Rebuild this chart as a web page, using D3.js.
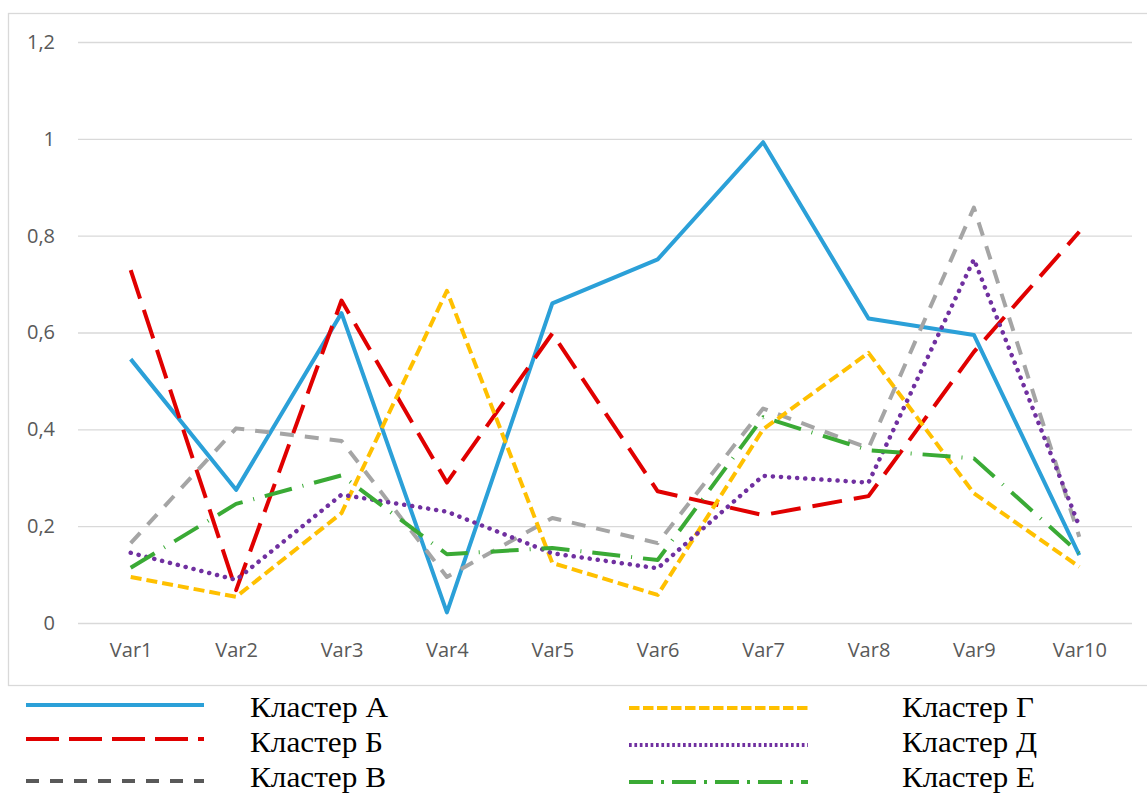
<!DOCTYPE html>
<html>
<head>
<meta charset="utf-8">
<script src="https://cdn.jsdelivr.net/npm/d3@7"></script>
<style>
	html, body { margin: 0; padding: 0; background: #fff; }
	svg { display: block; }
</style>
</head>
<body>
<div id="chart"></div>
<script>
'use strict';

//Categories on the x axis
var categories = ['Var1','Var2','Var3','Var4','Var5','Var6','Var7','Var8','Var9','Var10'];

//Y axis ticks
var yTicks = [0, 0.2, 0.4, 0.6, 0.8, 1, 1.2];

//Series names
var seriesNames = ['Кластер А','Кластер Б','Кластер В','Кластер Г','Кластер Д','Кластер Е'];

//Series values
var clusterA = [0.545, 0.275, 0.640, 0.022, 0.660, 0.751, 0.993, 0.629, 0.595, 0.140];
var clusterB = [0.729, 0.068, 0.666, 0.290, 0.598, 0.272, 0.223, 0.262, 0.560, 0.808];
var clusterV = [0.165, 0.402, 0.376, 0.095, 0.217, 0.165, 0.443, 0.361, 0.858, 0.178];
var clusterG = [0.095, 0.054, 0.227, 0.686, 0.124, 0.058, 0.400, 0.558, 0.268, 0.116];
var clusterD = [0.145, 0.089, 0.265, 0.230, 0.144, 0.113, 0.304, 0.290, 0.751, 0.200];
var clusterE = [0.114, 0.246, 0.305, 0.142, 0.155, 0.130, 0.425, 0.357, 0.340, 0.144];

(function() {
	var W = 1147, H = 793;

	//plot area
	var plot = {left: 78, right: 1132, top: 42, bottom: 623};

	//line styles per series: plot style, legend style
	var styles = [
		{color: '#2ba0d8', dash: null, legendColor: '#2ba0d8', legendDash: null},
		{color: '#e00000', dash: '30,12', legendColor: '#e00000', legendDash: '33,10'},
		{color: '#a5a5a5', dash: '14,11', legendColor: '#595959', legendDash: '13,11'},
		{color: '#ffc000', dash: '11,5', legendColor: '#ffc000', legendDash: '10.5,3.5'},
		{color: '#7030a0', dash: '0.1,8', cap: 'round', width: 4.5, legendColor: '#7030a0', legendDash: '2.7,2.7'},
		{color: '#3aaa35', dash: '28,11,1,11', cap: 'butt', legendColor: '#3aaa35', legendDash: '24,8,3,8'}
	];
	var series = [clusterA, clusterB, clusterV, clusterG, clusterD, clusterE];

	var svg = d3.select('#chart').append('svg')
		.attr('width', W)
		.attr('height', H);

	//chart frame
	svg.append('rect')
		.attr('x', 8.5).attr('y', 13.5)
		.attr('width', W + 10).attr('height', 672)
		.attr('fill', 'none')
		.attr('stroke', '#d9d9d9')
		.attr('stroke-width', 1.3);

	/***************************************
	 * SCALES
	 ***************************************/
	var x = d3.scalePoint()
		.domain(categories)
		.range([plot.left, plot.right])
		.padding(0.5);

	var y = d3.scaleLinear()
		.domain([0, 1.2])
		.range([plot.bottom, plot.top]);

	/***************************************
	 * AXES
	 ***************************************/
	var fmt = function(d) { return String(+d.toFixed(1)).replace('.', ','); };

	var yAxis = svg.append('g')
		.attr('transform', 'translate(' + plot.left + ',0)')
		.call(d3.axisLeft(y)
			.tickValues(yTicks)
			.tickSize(-(plot.right - plot.left))
			.tickPadding(23)
			.tickFormat(fmt));
	yAxis.select('.domain').remove();
	yAxis.selectAll('line')
		.attr('stroke', '#d9d9d9')
		.attr('stroke-width', 1.3);
	yAxis.selectAll('text')
		.attr('fill', '#595959')
		.style('font-family', '"Segoe UI","Open Sans",sans-serif')
		.style('font-size', '20px');

	var xAxis = svg.append('g')
		.attr('transform', 'translate(0,' + plot.bottom + ')')
		.call(d3.axisBottom(x).tickSize(0).tickPadding(20));
	xAxis.select('.domain').remove();
	xAxis.selectAll('text')
		.attr('fill', '#595959')
		.style('font-family', '"Segoe UI","Open Sans",sans-serif')
		.style('font-size', '20px');

	/***************************************
	 * LINES
	 ***************************************/
	var line = d3.line()
		.x(function(d, i) { return x(categories[i]); })
		.y(function(d) { return y(d); });

	svg.append('g').selectAll('path')
		.data(series)
		.enter().append('path')
			.attr('d', line)
			.attr('fill', 'none')
			.attr('stroke', function(d, i) { return styles[i].color; })
			.attr('stroke-width', function(d, i) { return styles[i].width || 4; })
			.attr('stroke-dasharray', function(d, i) { return styles[i].dash; })
			.attr('stroke-linecap', function(d, i) { return styles[i].cap || 'butt'; })
			.attr('stroke-linejoin', 'round');

	/***************************************
	 * LEGEND
	 ***************************************/
	var legendPos = [
		{x1: 26, x2: 204, ly: 705, tx: 250, ty: 717, tw: 138},
		{x1: 26, x2: 204, ly: 739, tx: 250, ty: 752, tw: 133},
		{x1: 26, x2: 204, ly: 781, tx: 250, ty: 787, tw: 136},
		{x1: 629, x2: 808, ly: 708, tx: 902, ty: 717, tw: 132},
		{x1: 629, x2: 808, ly: 745, tx: 902, ty: 752, tw: 135},
		{x1: 629, x2: 808, ly: 782, tx: 902, ty: 787, tw: 133}
	];

	var legend = svg.append('g').selectAll('g')
		.data(seriesNames)
		.enter().append('g');
	legend.append('line')
		.attr('x1', function(d, i) { return legendPos[i].x1; })
		.attr('x2', function(d, i) { return legendPos[i].x2; })
		.attr('y1', function(d, i) { return legendPos[i].ly; })
		.attr('y2', function(d, i) { return legendPos[i].ly; })
		.attr('stroke', function(d, i) { return styles[i].legendColor; })
		.attr('stroke-width', 3.8)
		.attr('stroke-dasharray', function(d, i) { return styles[i].legendDash; });
	legend.append('text')
		.attr('x', function(d, i) { return legendPos[i].tx; })
		.attr('y', function(d, i) { return legendPos[i].ty; })
		.attr('textLength', function(d, i) { return legendPos[i].tw; })
		.attr('lengthAdjust', 'spacingAndGlyphs')
		.attr('fill', '#000')
		.style('font-family', '"Liberation Serif","Times New Roman",serif')
		.style('font-size', '30px')
		.text(function(d) { return d; });
})();
</script>
</body>
</html>
